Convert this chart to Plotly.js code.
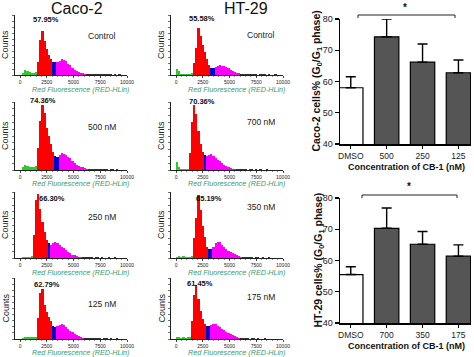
<!DOCTYPE html>
<html><head><meta charset="utf-8">
<script src="https://cdn.plot.ly/plotly-3.0.1.min.js"></script>
<style>html,body{margin:0;padding:0;background:#fff}#chart{width:474px;height:357px}</style>
</head><body><div id="chart"></div>
<script>
// ---------- DATA ----------
// flow-cytometry histogram bins (Red Fluorescence, bin centers, bin width 200)
const fluorBins = [100,300,500,700,900,1100,1300,1500,1700,1900,2100,2300,2500,2700,2900,3100,3300,3500,3700,3900,4100,4300,4500,4700,4900,5100,5300,5500,5700,5900,6100,6300,6500,6700,6900,7100,7300,7500,7700,7900,8100,8300,8500,8700,8900,9100,9300,9500,9700,9900];
const xTickVals = [0,2500,5000,7500,10000];
const xTickText = ["0","2500","5000","7500","10000"];

// Caco-2 histograms (relative counts)
const caco2Control = [0,3,8,7,5,4,3,5,22,58,73,56,43,33,26,22,21,22,24,27,25,23,19,16,12,9,7,5,4,3,2,2,1,2,1,1,2,1,1,1,2,1,1,0,1,0,1,0,0,0];
const caco2_500 = [0,4,7,6,5,5,4,6,32,72,96,84,62,50,38,27,20,19,22,25,24,22,19,17,13,11,8,6,5,4,3,2,1,2,1,1,1,2,1,1,1,0,1,1,0,1,0,0,0,0];
const caco2_250 = [0,1,2,2,1,3,35,88,97,75,55,40,28,22,20,22,24,22,20,17,15,12,9,7,5,4,3,2,1,1,1,2,1,1,0,1,1,0,1,0,0,1,0,0,1,0,0,0,0,0];
const caco2_125 = [0,2,4,4,3,4,3,4,35,75,82,55,45,36,29,22,20,21,23,24,23,20,16,13,11,9,7,5,3,2,2,1,2,1,1,1,2,1,0,1,1,0,1,0,0,1,0,0,0,0];
// HT-29 histograms
const ht29Control = [10,6,2,2,1,1,2,3,20,45,78,65,50,38,26,16,12,12,13,15,16,15,15,13,11,9,7,5,4,3,2,1,2,1,1,2,1,1,0,1,1,1,0,1,0,0,1,0,0,0];
const ht29_700 = [12,5,2,2,1,2,25,70,95,82,58,38,26,22,20,22,23,21,18,15,13,10,8,6,4,3,2,2,1,1,2,1,1,0,1,1,0,1,0,1,0,0,1,0,0,0,0,0,0,0];
const ht29_350 = [2,3,2,3,2,2,1,3,30,60,95,72,48,32,17,13,13,16,22,25,24,20,16,14,11,9,7,6,5,3,2,1,2,1,1,1,0,1,1,0,1,0,0,1,0,0,0,0,0,0];
const ht29_175 = [3,3,2,3,2,3,3,30,72,89,65,46,32,25,22,21,23,25,25,22,19,17,14,12,10,8,6,5,3,2,1,2,1,1,0,1,1,0,1,0,0,1,0,0,0,0,0,0,0,0];

// phase gates: [G1 start, S start, S end / G2 start, G2 end]
const caco2ControlGates = [1600,3000,3400,6200];
const caco2_500Gates = [1600,3200,3600,6400];
const caco2_250Gates = [1200,2600,2800,5800];
const caco2_125Gates = [1600,3000,3400,6000];
const ht29ControlGates = [1600,3200,3600,6000];
const ht29_700Gates = [1200,2600,2800,5600];
const ht29_350Gates = [1600,3000,3400,6200];
const ht29_175Gates = [1400,2800,3200,6000];

const caco2Pct = ["57.95%","74.36%","66.30%","62.79%"];
const ht29Pct = ["55.58%","70.36%","65.19%","61.45%"];
const caco2Cond = ["Control","500 nM","250 nM","125 nM"];
const ht29Cond = ["Control","700 nM","350 nM","175 nM"];

// bar charts: % cells in G0/G1 phase
const caco2Cats = ["DMSO","500","250","125"];
const caco2Mean = [58.0,74.3,66.2,62.8];
const caco2Err = [3.5,5.7,5.8,4.1];
const ht29Cats = ["DMSO","700","350","175"];
const ht29Mean = [55.5,70.3,65.2,61.4];
const ht29Err = [2.5,6.5,4.1,3.6];

// ---------- LAYOUT HELPERS ----------
const W = 474, H = 357;
const px = v => v / W, py = v => 1 - v / H;
const FONT = 'Arial, "Liberation Sans", Helvetica, sans-serif';
const phaseColors = ['#29cc29','#ff0000','#0000cc','#ff00ff','#333333'];
function gateColor(v, g){ if(v<g[0])return phaseColors[0]; if(v<g[1])return phaseColors[1]; if(v<g[2])return phaseColors[2]; if(v<g[3])return phaseColors[3]; return phaseColors[4]; }

const rows = [[15,75],[102,170],[192,258],[278,339]];
const cols = [[15,127],[171,283]];
const histSets = [
  [[caco2Control,caco2ControlGates],[caco2_500,caco2_500Gates],[caco2_250,caco2_250Gates],[caco2_125,caco2_125Gates]],
  [[ht29Control,ht29ControlGates],[ht29_700,ht29_700Gates],[ht29_350,ht29_350Gates],[ht29_175,ht29_175Gates]]
];
const pctPos = [[[46,19],[43,100],[52,198],[47,284]],[[202,18],[202,101],[209,198],[200,283]]];
const condPos = [[[102,36],[102,127],[102,217],[102,304]],[[261,35],[261,122],[261,207],[261,297]]];
const pctText = [caco2Pct, ht29Pct];
const condText = [caco2Cond, ht29Cond];

const data = [];
const layout = {
  width: W, height: H, margin:{l:0,r:0,t:0,b:0}, showlegend:false,
  paper_bgcolor:'#ffffff', plot_bgcolor:'#ffffff',
  font:{family:FONT, color:'#222', size:8},
  bargap:0, annotations:[], shapes:[]
};

for (let c=0;c<2;c++){
  for (let r=0;r<4;r++){
    const k = c*4 + r + 1;
    const xs = k===1 ? '' : k;
    const [vals, gates] = histSets[c][r];
    data.push({
      type:'bar', x: fluorBins, y: vals, width: 200,
      marker:{color: fluorBins.map(v=>gateColor(v,gates)), line:{width:0}},
      xaxis:'x'+xs, yaxis:'y'+xs, hoverinfo:'skip'
    });
    layout['xaxis'+xs] = {
      domain:[px(cols[c][0]), px(cols[c][1])], range:[-470,10000], anchor:'y'+xs,
      showgrid:false, zeroline:false, showline:true, linecolor:'#222', linewidth:1,
      ticks:'outside', ticklen:2, tickwidth:0.8, tickcolor:'#222',
      tickvals:xTickVals, ticktext:xTickText, tickfont:{size:5, color:'#222'},
      minor:{tick0:0, dtick:500, ticks:'outside', ticklen:1.3, tickcolor:'#444', tickwidth:0.6},
      fixedrange:true
    };
    layout['yaxis'+xs] = {
      domain:[py(rows[r][1]), py(rows[r][0])], range:[0,100], anchor:'x'+xs,
      showgrid:false, zeroline:false, showline:true, linecolor:'#222', linewidth:1,
      ticks:'outside', ticklen:2, tickwidth:0.7, tickcolor:'#333',
      tickvals:[0,10,20,30,40,50,60,70,80,90,100], showticklabels:false, fixedrange:true
    };
    const [tx,ty] = pctPos[c][r];
    layout.annotations.push({xref:'paper',yref:'paper',x:px(tx),y:py(ty),text:'<b>'+pctText[c][r]+'</b>',showarrow:false,font:{size:7.5,color:'#111'},xanchor:'center',yanchor:'middle'});
    const [cx,cy] = condPos[c][r];
    layout.annotations.push({xref:'paper',yref:'paper',x:px(cx),y:py(cy),text:condText[c][r],showarrow:false,font:{size:8.5,color:'#222'},xanchor:'center',yanchor:'middle'});
    layout.annotations.push({xref:'paper',yref:'paper',x:px(cols[c][0]-10),y:py((rows[r][0]+rows[r][1])/2),text:'Counts',textangle:-90,showarrow:false,font:{size:9,color:'#222'},xanchor:'center',yanchor:'middle'});
    layout.annotations.push({xref:'paper',yref:'paper',x:px(cols[c][0]+65),y:py(Math.min(rows[r][1]+14,352)),text:'<i>Red Fluorescence (RED-HLin)</i>',showarrow:false,font:{size:7.2,color:'#3a9a6a'},xanchor:'center',yanchor:'middle'});
  }
}
layout.annotations.push({xref:'paper',yref:'paper',x:px(77),y:py(8),text:'Caco-2',showarrow:false,font:{size:16,color:'#111'},xanchor:'center',yanchor:'middle'});
layout.annotations.push({xref:'paper',yref:'paper',x:px(246),y:py(8),text:'HT-29',showarrow:false,font:{size:16,color:'#111'},xanchor:'center',yanchor:'middle'});

// ---------- bar charts ----------
const barSets = [
  {cats:caco2Cats, mean:caco2Mean, err:caco2Err, top:19, bot:144, ytitle:'<b>Caco-2 cells% (G<sub>0</sub>/G<sub>1</sub> phase)</b>', tx:317, br:[358,455,15,18], star:[405,7]},
  {cats:ht29Cats, mean:ht29Mean, err:ht29Err, top:198, bot:323, ytitle:'<b>HT-29 cells% (G<sub>0</sub>/G<sub>1</sub> phase)</b>', tx:318, br:[362,457,195,198], star:[409,186]}
];
barSets.forEach((b,i)=>{
  const k = 9+i;
  data.push({
    type:'bar', x:b.cats, y:b.mean, width:0.68, xaxis:'x'+k, yaxis:'y'+k, cliponaxis:false,
    marker:{color:b.cats.map((c,j)=>j===0?'#ffffff':'#555555'), line:{color:'#000', width:1.2}},
    error_y:{type:'data', symmetric:false, array:b.err, arrayminus:b.err.map(()=>0), color:'#000', thickness:1.4, width:5},
    hoverinfo:'skip'
  });
  layout['xaxis'+k] = {
    domain:[px(340), px(471)], range:[-0.3,3.35], anchor:'y'+k, type:'category',
    showgrid:false, zeroline:false, showline:true, linecolor:'#000', linewidth:1.5,
    ticks:'outside', ticklen:3, tickwidth:1.2, tickcolor:'#000', tickfont:{size:8.5, color:'#222'}, fixedrange:true
  };
  layout['yaxis'+k] = {
    domain:[py(b.bot), py(b.top)], range:[40,80], anchor:'x'+k,
    tickvals:[40,50,60,70,80], showgrid:false, zeroline:false, showline:true, linecolor:'#000', linewidth:1.5,
    ticks:'outside', ticklen:4, tickwidth:1.2, tickcolor:'#000', tickfont:{size:9, color:'#222'}, fixedrange:true
  };
  layout.annotations.push({xref:'paper',yref:'paper',x:px(b.tx),y:py((b.top+b.bot)/2),text:b.ytitle,textangle:-90,showarrow:false,font:{size:10.5,color:'#111'},xanchor:'center',yanchor:'middle'});
  layout.annotations.push({xref:'paper',yref:'paper',x:px(406),y:py(b.bot+23),text:'<b>Concentration of CB-1 (nM)</b>',showarrow:false,font:{size:9,color:'#111'},xanchor:'center',yanchor:'middle'});
  layout.annotations.push({xref:'paper',yref:'paper',x:px(b.star[0]),y:py(b.star[1]),text:'<b>*</b>',showarrow:false,font:{size:10,color:'#111'},xanchor:'center',yanchor:'middle'});
  const [x0,x1,yb,ye] = b.br;
  layout.shapes.push({type:'path', xref:'paper', yref:'paper',
    path:`M ${px(x0)} ${py(ye)} L ${px(x0)} ${py(yb)} L ${px(x1)} ${py(yb)} L ${px(x1)} ${py(ye)}`,
    line:{color:'#222', width:1}});
});

Plotly.newPlot('chart', data, layout, {staticPlot:true, displayModeBar:false});
</script></body></html>
